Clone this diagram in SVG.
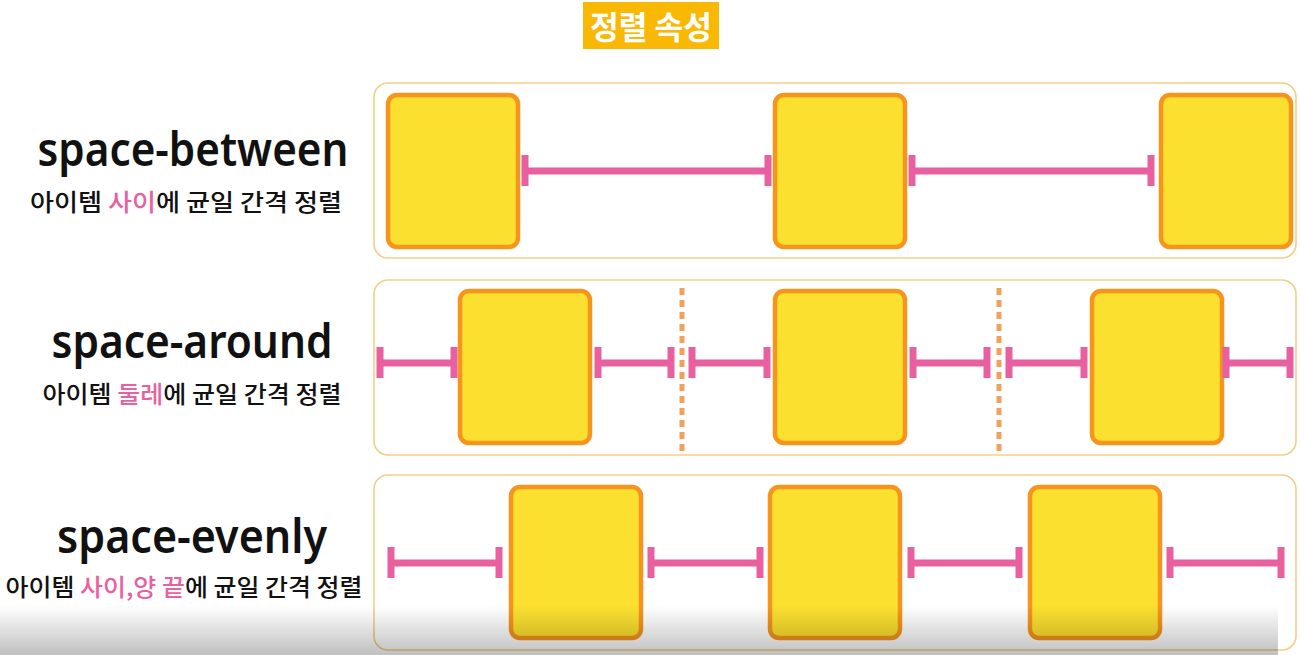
<svg xmlns="http://www.w3.org/2000/svg" width="1300" height="655" viewBox="0 0 1300 655">
<defs>
<style>
.panel{fill:#fff;stroke:#f2cf86;stroke-width:1.6}
.item{fill:#fbe02f;stroke:#f7941d;stroke-width:4.5}
.gap{stroke:#e8609f;stroke-width:7;fill:none}
.sep{stroke:#f1a25a;stroke-width:5;stroke-dasharray:7 5;fill:none}
.h{font-family:"Noto Sans","DejaVu Sans",sans-serif;font-weight:600;font-size:46px;fill:#111;text-anchor:middle}
.k{font-family:"Noto Sans CJK KR","Noto Sans",sans-serif;font-weight:500;font-size:24px;fill:#111;text-anchor:middle}
.pk{fill:#e8609f}
</style>
<linearGradient id="fade" x1="0" y1="0" x2="0" y2="1">
<stop offset="0" stop-color="#000" stop-opacity="0"/>
<stop offset="1" stop-color="#000" stop-opacity="0.25"/>
</linearGradient>
</defs>
<rect width="1300" height="655" fill="#fff"/>

<g id="title">
<rect x="583" y="2" width="136" height="47" fill="#f8b803"/>
<text x="651" y="39" font-family="'Noto Sans CJK KR',sans-serif" font-weight="700" font-size="32" fill="#fff" text-anchor="middle" textLength="122" lengthAdjust="spacingAndGlyphs">정렬 속성</text>
</g>

<g id="label-between">
<text class="h" x="193" y="166" textLength="311" lengthAdjust="spacingAndGlyphs">space-between</text>
<text class="k" x="186" y="211" textLength="312" lengthAdjust="spacingAndGlyphs">아이템 <tspan class="pk">사이</tspan>에 균일 간격 정렬</text>
</g>
<g id="label-around">
<text class="h" x="192" y="358" textLength="281" lengthAdjust="spacingAndGlyphs">space-around</text>
<text class="k" x="192" y="403" textLength="299" lengthAdjust="spacingAndGlyphs">아이템 <tspan class="pk">둘레</tspan>에 균일 간격 정렬</text>
</g>
<g id="label-evenly">
<text class="h" x="192" y="553" textLength="270" lengthAdjust="spacingAndGlyphs">space-evenly</text>
<text class="k" x="184" y="596" textLength="357" lengthAdjust="spacingAndGlyphs">아이템 <tspan class="pk">사이,양 끝</tspan>에 균일 간격 정렬</text>
</g>

<g id="panel-between">
<rect class="panel" x="374" y="83" width="922" height="175" rx="14"/>
<rect class="item" x="388" y="95" width="130" height="152" rx="9"/>
<rect class="item" x="775" y="95" width="130" height="152" rx="9"/>
<rect class="item" x="1161" y="95" width="130" height="152" rx="9"/>
</g>
<g id="panel-around">
<rect class="panel" x="374" y="280" width="922" height="175" rx="14"/>
<rect class="item" x="460" y="291" width="130" height="152" rx="9"/>
<rect class="item" x="775" y="291" width="130" height="152" rx="9"/>
<rect class="item" x="1092" y="291" width="130" height="152" rx="9"/>
</g>
<g id="panel-evenly">
<rect class="panel" x="374" y="475" width="922" height="175" rx="14"/>
<rect class="item" x="511" y="487" width="130" height="151" rx="9"/>
<rect class="item" x="770" y="487" width="130" height="151" rx="9"/>
<rect class="item" x="1030" y="487" width="130" height="151" rx="9"/>
</g>

<g id="connectors">
<path class="gap" d="M525 171H768M525 155V186M768 155V186"/>
<path class="gap" d="M912 171H1151M912 155V186M1151 155V186"/>
<path class="gap" d="M380 363H454M380 347V378M454 347V378"/>
<path class="gap" d="M598 363H671M598 347V378M671 347V378"/>
<path class="gap" d="M692 363H767M692 347V378M767 347V378"/>
<path class="gap" d="M913 363H987M913 347V378M987 347V378"/>
<path class="gap" d="M1009 363H1084M1009 347V378M1084 347V378"/>
<path class="gap" d="M1226 363H1290M1226 347V378M1290 347V378"/>
<path class="sep" d="M682 288V454"/>
<path class="sep" d="M999 288V454"/>
<path class="gap" d="M391 563H499M391 547V578M499 547V578"/>
<path class="gap" d="M651 563H760M651 547V578M760 547V578"/>
<path class="gap" d="M911 563H1019M911 547V578M1019 547V578"/>
<path class="gap" d="M1170 563H1281M1170 547V578M1281 547V578"/>
</g>

<rect x="0" y="606" width="1278" height="49" fill="url(#fade)"/>
</svg>
